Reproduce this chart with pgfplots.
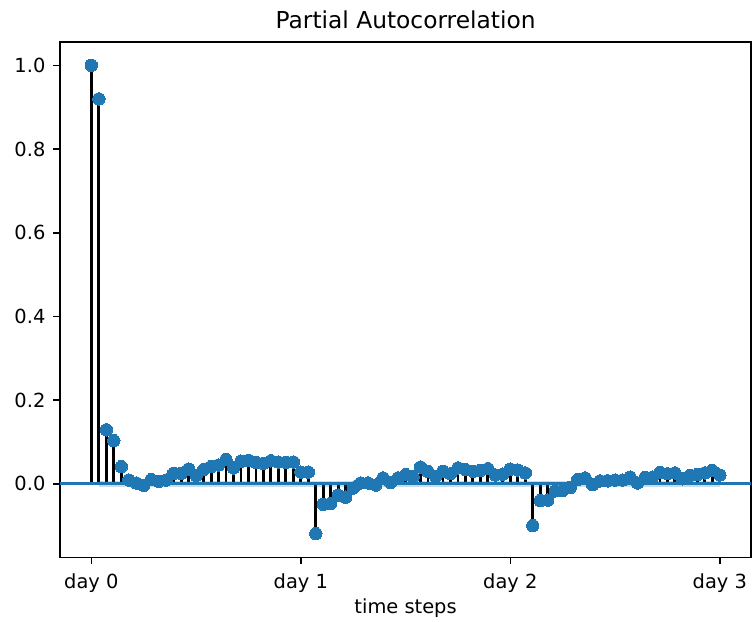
\documentclass[border=0pt]{standalone}
\usepackage{pgfplots}
\pgfplotsset{compat=1.18}
\usepackage{pgfplotstable}
\usepackage{fontspec}
\setmainfont{DejaVu Sans}
\definecolor{c0}{HTML}{1F77B4}

% partial autocorrelation by lag
\pgfplotstableread{
lag pacf
0 1.000
1 0.920
2 0.129
3 0.103
4 0.041
5 0.009
6 0.002
7 -0.004
8 0.010
9 0.006
10 0.009
11 0.025
12 0.025
13 0.035
14 0.020
15 0.034
16 0.041
17 0.045
18 0.058
19 0.038
20 0.054
21 0.056
22 0.051
23 0.049
24 0.055
25 0.052
26 0.051
27 0.052
28 0.028
29 0.028
30 -0.119
31 -0.049
32 -0.047
33 -0.027
34 -0.032
35 -0.010
36 0.002
37 0.002
38 -0.003
39 0.014
40 0.003
41 0.014
42 0.022
43 0.017
44 0.040
45 0.029
46 0.018
47 0.030
48 0.024
49 0.038
50 0.034
51 0.030
52 0.032
53 0.036
54 0.021
55 0.023
56 0.035
57 0.033
58 0.026
59 -0.100
60 -0.040
61 -0.039
62 -0.017
63 -0.016
64 -0.009
65 0.010
66 0.014
67 -0.002
68 0.007
69 0.007
70 0.009
71 0.009
72 0.016
73 0.002
74 0.015
75 0.016
76 0.027
77 0.024
78 0.026
79 0.012
80 0.020
81 0.022
82 0.026
83 0.032
84 0.021
}\pacftable

% 95% confidence band around zero (lags 1-84), as a closed outline
\pgfplotstableread{
lag band
1 -0.0065
84 -0.0065
84 0.0065
1 0.0065
}\bandtable

\begin{document}
\begin{tikzpicture}
\begin{axis}[
  at={(0,0)}, anchor=south west,
  width=355.9pt, height=265.4pt, scale only axis,
  xmin=-4.2, xmax=88.2, ymin=-0.176, ymax=1.056,
  xtick={0,28,56,84}, xticklabels={day 0,day 1,day 2,day 3},
  ytick={0,0.2,0.4,0.6,0.8,1.0},
  /pgf/number format/assume math mode=true,
  /pgf/number format/fixed,
  /pgf/number format/fixed zerofill,
  /pgf/number format/precision=1,
  tick align=outside, major tick length=3.5pt,
  xtick pos=left, ytick pos=left,
  tick style={black, line width=0.8pt},
  axis line style={black, line width=0.8pt},
  tick label style={font=\fontsize{10}{12}\selectfont},
  xticklabel style={anchor=north, inner sep=0pt, yshift=-4.7pt},
  yticklabel style={anchor=east, inner sep=0pt, xshift=-3.8pt},
  title={Partial Autocorrelation},
  title style={font=\fontsize{12}{14}\selectfont, at={(0.5,1)}, anchor=base, yshift=1pt, inner sep=0pt},
  xlabel={time steps},
  xlabel style={font=\fontsize{10}{12}\selectfont, at={(0.5,0)}, anchor=base, yshift=-29pt, inner sep=0pt},
]
% stems
\addplot[ycomb, black, line width=1.5pt, mark=none] table[x=lag, y=pacf] {\pacftable};
% zero line
\addplot[c0, line width=1.5pt, mark=none] coordinates {(-4.2,0) (88.2,0)};
% markers
\addplot[only marks, mark=*, mark size=3.2pt, c0, mark options={draw=c0, fill=c0, line width=0pt}] table[x=lag, y=pacf] {\pacftable};
% confidence band
\addplot[draw=none, fill=c0, fill opacity=0.25, mark=none] table[x=lag, y=band] {\bandtable} -- cycle;
\end{axis}
\pgfresetboundingbox
\path (-30.86pt,-32.9pt) rectangle (356.3pt,287.0pt);
\end{tikzpicture}
\end{document}
